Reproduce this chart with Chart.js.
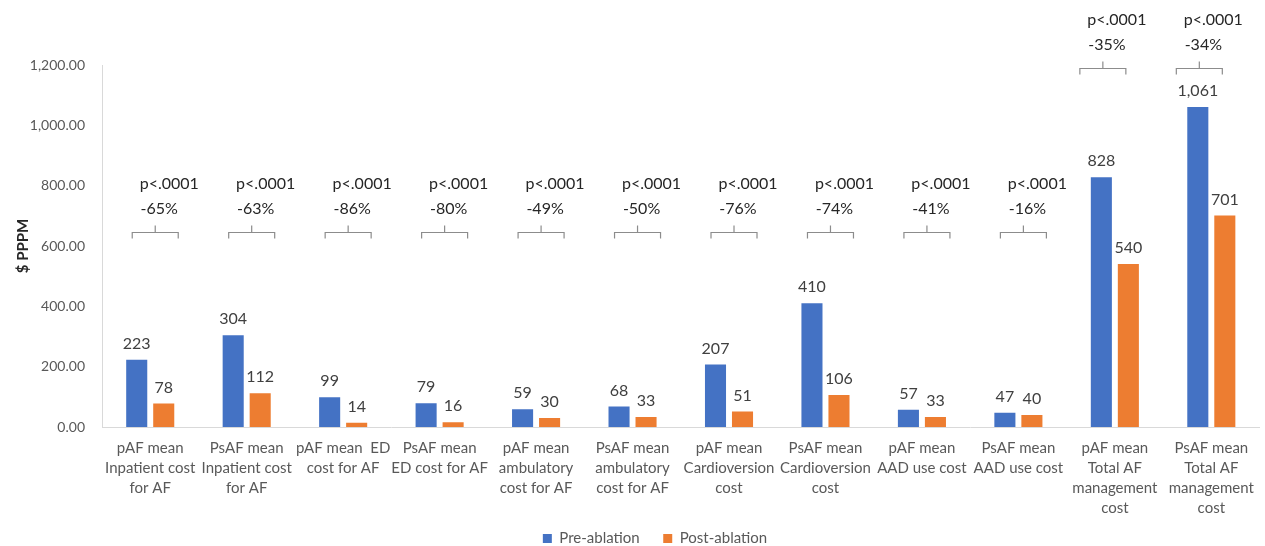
<!DOCTYPE html>
<html>
<head>
<meta charset="utf-8">
<script src="https://cdn.jsdelivr.net/npm/chart.js@4.4.1/dist/chart.umd.min.js"></script>
<style>
  html, body { margin: 0; padding: 0; background: #fff; }
  #wrap { width: 1265px; height: 546px; position: relative; }
</style>
</head>
<body>
<div id="wrap"><canvas id="c"></canvas></div>
<script>
// Category labels (multi-line, as wrapped on the axis)
const categories = [
  ["pAF mean", "Inpatient cost", "for AF"],
  ["PsAF mean", "Inpatient cost", "for AF"],
  ["pAF mean  ED", "cost for AF"],
  ["PsAF mean", "ED cost for AF"],
  ["pAF mean", "ambulatory", "cost for AF"],
  ["PsAF mean", "ambulatory", "cost for AF"],
  ["pAF mean", "Cardioversion", "cost"],
  ["PsAF mean", "Cardioversion", "cost"],
  ["pAF mean", "AAD use cost"],
  ["PsAF mean", "AAD use cost"],
  ["pAF mean", "Total AF", "management", "cost"],
  ["PsAF mean", "Total AF", "management", "cost"]
];

// $ per patient per month
const preAblation  = [223, 304, 99, 79, 59, 68, 207, 410, 57, 47, 828, 1061];
const postAblation = [78, 112, 14, 16, 30, 33, 51, 106, 33, 40, 540, 701];

// Change from pre- to post-ablation and significance
const pctChange = ["-65%", "-63%", "-86%", "-80%", "-49%", "-50%", "-76%", "-74%", "-41%", "-16%", "-35%", "-34%"];
const pValues   = ["p<.0001", "p<.0001", "p<.0001", "p<.0001", "p<.0001", "p<.0001",
                   "p<.0001", "p<.0001", "p<.0001", "p<.0001", "p<.0001", "p<.0001"];

// Axis ticks
const yTicks = { min: 0, max: 1200, step: 200 };

const FONT = "Lato, 'Open Sans', sans-serif";
const fmtInt = v => v.toLocaleString("en-US");
const fmtTick = v => v.toLocaleString("en-US", { minimumFractionDigits: 2, maximumFractionDigits: 2 });

// Value labels above each bar
const valueLabels = {
  id: "valueLabels",
  afterDatasetsDraw(chart) {
    const ctx = chart.ctx;
    ctx.save();
    ctx.font = "16px " + FONT;
    ctx.fillStyle = "#404040";
    ctx.textAlign = "center";
    ctx.textBaseline = "middle";
    chart.data.datasets.forEach((ds, di) => {
      chart.getDatasetMeta(di).data.forEach((bar, i) => {
        ctx.fillText(fmtInt(ds.data[i]), bar.x, bar.y - 16);
      });
    });
    ctx.restore();
  }
};

// Significance brackets with p-value and % change
const brackets = {
  id: "brackets",
  afterDatasetsDraw(chart, args, opts) {
    const ctx = chart.ctx;
    const x = chart.scales.x, y = chart.scales.y;
    ctx.save();
    pctChange.forEach((pct, i) => {
      const big = preAblation[i] > 700;
      const level = big ? opts.highLevel : opts.lowLevel;
      const shift = big ? -12 : 5;
      const cx = x.getPixelForValue(i) + shift;
      const by = Math.round(y.getPixelForValue(level)) + 0.5;
      const half = 23;
      ctx.strokeStyle = "#8c8c8c";
      ctx.lineWidth = 1.2;
      ctx.beginPath();
      ctx.moveTo(cx - half, by + 6);
      ctx.lineTo(cx - half, by);
      ctx.lineTo(cx + half, by);
      ctx.lineTo(cx + half, by + 6);
      ctx.moveTo(cx, by);
      ctx.lineTo(cx, by - 7);
      ctx.stroke();

      ctx.fillStyle = "#262626";
      ctx.font = "16px " + FONT;
      ctx.textAlign = "center";
      ctx.textBaseline = "middle";
      ctx.fillText(pct, cx + 4, by - 24);
      ctx.fillText(pValues[i], cx + 14, by - 49);
    });
    ctx.restore();
  }
};

// Centre the legend under the plot rather than the whole canvas
const legendShift = {
  id: "legendShift",
  afterLayout(chart, args, opts) {
    if (chart.legend) chart.legend.left += opts.dx;
  }
};

new Chart(document.getElementById("c"), {
  type: "bar",
  data: {
    labels: categories,
    datasets: [
      { label: "Pre-ablation", data: preAblation, backgroundColor: "#4472C4",
        categoryPercentage: 0.56, barPercentage: 0.78 },
      { label: "Post-ablation", data: postAblation, backgroundColor: "#ED7D31",
        categoryPercentage: 0.56, barPercentage: 0.78 }
    ]
  },
  options: {
    responsive: true,
    maintainAspectRatio: false,
    animation: false,
    layout: { padding: { top: 65, right: 3, left: 0, bottom: -10 } },
    scales: {
      x: {
        grid: { display: false, drawTicks: false },
        border: { color: "#d9d9d9" },
        ticks: {
          color: "#595959",
          font: { family: FONT, size: 15, lineHeight: 1.333 },
          padding: 11,
          maxRotation: 0,
          autoSkip: false
        },
        afterFit(s) { s.height = 92; }
      },
      y: {
        min: yTicks.min,
        max: yTicks.max,
        grid: { display: false, drawTicks: false },
        border: { color: "#d9d9d9" },
        ticks: {
          stepSize: yTicks.step,
          color: "#595959",
          font: { family: FONT, size: 14 },
          padding: 17,
          callback: v => fmtTick(v)
        },
        title: {
          display: true,
          text: "$ PPPM",
          color: "#262626",
          font: { family: FONT, size: 15, weight: "bold" },
          padding: { top: 14, bottom: 0 }
        },
        afterFit(s) { s.width = 102; }
      }
    },
    plugins: {
      legend: {
        position: "bottom",
        labels: {
          color: "#595959",
          font: { family: FONT, size: 15 },
          boxWidth: 9,
          boxHeight: 9,
          padding: 12,
          generateLabels(chart) {
            const items = Chart.defaults.plugins.legend.labels.generateLabels(chart);
            // wider gap between the two entries
            items.forEach((it, i) => { if (i < items.length - 1) it.text += "   "; });
            return items;
          }
        }
      },
      tooltip: { enabled: false },
      brackets: { lowLevel: 645, highLevel: 1190 },
      legendShift: { dx: 48 }
    }
  },
  plugins: [valueLabels, brackets, legendShift]
});
</script>
</body>
</html>
